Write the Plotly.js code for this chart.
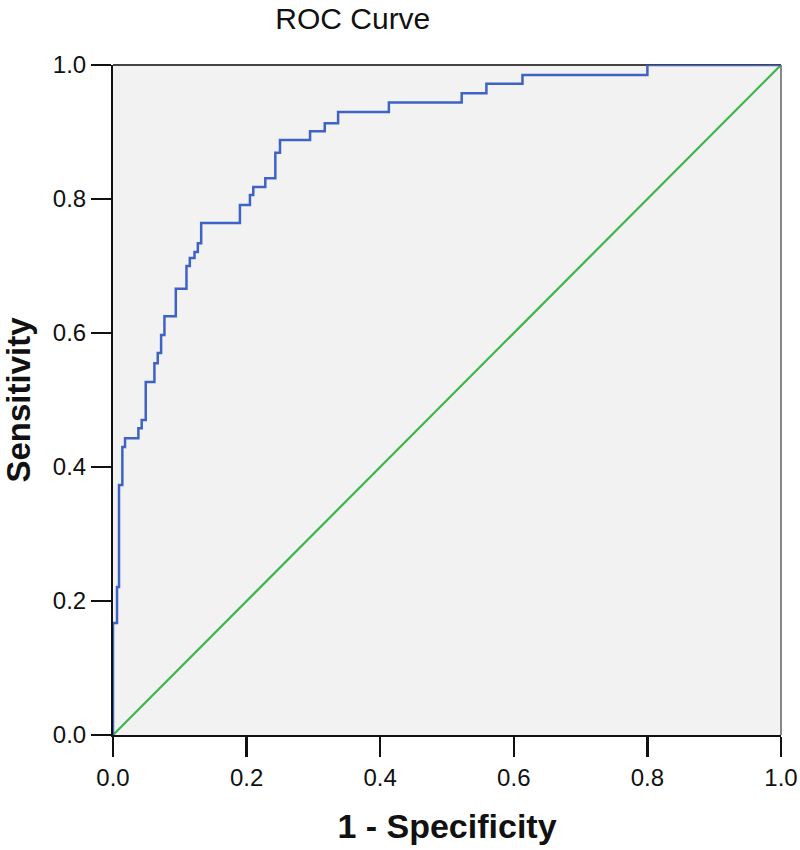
<!DOCTYPE html>
<html>
<head>
<meta charset="utf-8">
<script src="https://cdn.plot.ly/plotly-3.0.1.min.js"></script>
<style>
  body { margin: 0; background: #fff; }
  #plot { width: 800px; height: 850px; }
</style>
</head>
<body>
<div id="plot"></div>
<script>
// ROC points (1 - specificity, sensitivity)
var fpr = [0, 0, 0.006, 0.009, 0.014, 0.018, 0.038, 0.043, 0.049, 0.062, 0.067,
  0.072, 0.077, 0.094, 0.110, 0.115, 0.122, 0.127, 0.132, 0.190, 0.205, 0.210,
  0.228, 0.243, 0.250, 0.295, 0.317, 0.337, 0.413, 0.522, 0.559, 0.613, 0.800, 1.0];
var tpr = [0, 0.167, 0.221, 0.373, 0.430, 0.443, 0.458, 0.470, 0.527, 0.555, 0.570,
  0.597, 0.625, 0.666, 0.700, 0.712, 0.721, 0.734, 0.764, 0.791, 0.806, 0.818,
  0.831, 0.869, 0.888, 0.901, 0.913, 0.930, 0.944, 0.958, 0.972, 0.985, 1.0, 1.0];

// reference line
var refX = [0, 1];
var refY = [0, 1];

var tickVals = [0, 0.2, 0.4, 0.6, 0.8, 1.0];
var tickText = ['0.0', '0.2', '0.4', '0.6', '0.8', '1.0'];

var fontFam = '"Liberation Sans", Arial, sans-serif';

var roc = {
  x: fpr,
  y: tpr,
  type: 'scatter',
  mode: 'lines',
  line: {color: '#3f63c4', width: 2.5, shape: 'hv'},
  hoverinfo: 'x+y'
};

var diag = {
  x: refX,
  y: refY,
  type: 'scatter',
  mode: 'lines',
  line: {color: '#3db54a', width: 2.2},
  hoverinfo: 'skip'
};

var layout = {
  width: 800,
  height: 850,
  margin: {l: 113, r: 19, t: 65, b: 115},
  paper_bgcolor: '#ffffff',
  plot_bgcolor: '#f2f2f2',
  showlegend: false,
  font: {family: fontFam, color: '#111', size: 20},
  title: {
    text: 'ROC Curve',
    font: {family: fontFam, size: 30, color: '#111'},
    xref: 'container', x: 0.441, xanchor: 'center',
    yref: 'container', y: 0.978, yanchor: 'middle'
  },
  xaxis: {
    range: [0, 1],
    tickvals: tickVals,
    ticktext: tickText,
    ticks: 'outside',
    ticklen: 20,
    tickwidth: 2.5,
    tickcolor: '#111',
    showgrid: false,
    zeroline: false,
    showline: true,
    linecolor: '#111',
    linewidth: 2,
    tickfont: {family: fontFam, size: 24},
    title: {
      text: '<b>1 - Specificity</b>',
      font: {family: fontFam, size: 34},
      standoff: 24
    },
    fixedrange: true
  },
  yaxis: {
    range: [0, 1],
    tickvals: tickVals,
    ticktext: tickText,
    ticks: 'outside',
    ticklen: 20,
    tickwidth: 2.5,
    tickcolor: '#111',
    showgrid: false,
    zeroline: false,
    showline: true,
    linecolor: '#111',
    linewidth: 2,
    tickfont: {family: fontFam, size: 24},
    title: {
      text: '<b>Sensitivity</b>',
      font: {family: fontFam, size: 33},
      standoff: 16
    },
    fixedrange: true
  },
  shapes: [
    {type: 'line', xref: 'paper', yref: 'paper', x0: 0, x1: 1, y0: 1, y1: 1,
     line: {color: '#444', width: 2}, layer: 'below'},
    {type: 'line', xref: 'paper', yref: 'paper', x0: 1, x1: 1, y0: 0, y1: 1,
     line: {color: '#888', width: 2}, layer: 'below'}
  ]
};

Plotly.newPlot('plot', [diag, roc], layout, {displayModeBar: false, staticPlot: true});
</script>
</body>
</html>
